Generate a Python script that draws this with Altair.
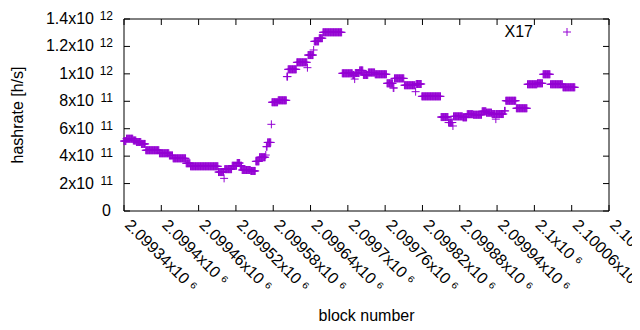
import altair as alt
import pandas as pd

# Runs of constant hashrate estimate: first block, last block, hashrate (x1e11 h/s)
seg_start = [2099340, 2099344, 2099355, 2099360, 2099368, 2099375, 2099397, 2099413, 2099419, 2099440,
             2099447, 2099492, 2099501, 2099502, 2099514, 2099522, 2099527, 2099530, 2099544, 2099552,
             2099558, 2099568, 2099569, 2099571, 2099577, 2099578, 2099588, 2099602, 2099604, 2099618,
             2099635, 2099636, 2099645, 2099646, 2099654, 2099660, 2099691, 2099708, 2099711, 2099712,
             2099719, 2099725, 2099733, 2099744, 2099763, 2099773, 2099775, 2099791, 2099809, 2099810,
             2099819, 2099850, 2099862, 2099869, 2099870, 2099885, 2099892, 2099902, 2099916, 2099923,
             2099932, 2099938, 2099939, 2099952, 2099954, 2099971, 2099989, 2100005, 2100014, 2100026,
             2100046]
seg_end = [2099343, 2099354, 2099359, 2099367, 2099374, 2099396, 2099412, 2099418, 2099439, 2099446,
           2099491, 2099500, 2099501, 2099513, 2099521, 2099526, 2099529, 2099543, 2099551, 2099557,
           2099567, 2099568, 2099570, 2099576, 2099577, 2099587, 2099601, 2099603, 2099617, 2099634,
           2099635, 2099644, 2099645, 2099653, 2099659, 2099690, 2099707, 2099710, 2099711, 2099718,
           2099724, 2099732, 2099743, 2099762, 2099772, 2099774, 2099790, 2099808, 2099809, 2099818,
           2099849, 2099861, 2099868, 2099869, 2099884, 2099891, 2099901, 2099915, 2099922, 2099931,
           2099937, 2099938, 2099950, 2099953, 2099970, 2099988, 2100004, 2100013, 2100025, 2100045,
           2100065]
seg_value = [5.10, 5.27, 5.14, 5.03, 4.89, 4.43, 4.21, 4.05, 3.84, 3.48,
             3.26, 2.84, 2.38, 3.05, 3.30, 3.50, 3.30, 2.99, 2.92, 3.62,
             3.92, 4.08, 4.69, 5.00, 6.32, 7.93, 8.07, 9.80, 10.33, 10.84,
             10.45, 11.37, 11.74, 12.37, 12.60, 13.03, 10.04, 9.92, 9.62, 10.06,
             10.25, 9.92, 10.10, 9.97, 9.31, 8.97, 9.67, 9.17, 8.70, 9.26,
             8.36, 6.85, 6.45, 6.20, 6.90, 6.83, 7.06, 7.02, 7.27, 7.17,
             7.07, 6.70, 7.07, 7.30, 8.04, 7.49, 9.24, 9.31, 9.97, 9.24,
             9.02]

x_ticks = [2099340, 2099400, 2099460, 2099520, 2099580, 2099640, 2099700,
           2099760, 2099820, 2099880, 2099940, 2100000, 2100060, 2100120]
x_labels = ["2.09934x10 \u2076", "2.0994x10 \u2076", "2.09946x10 \u2076", "2.09952x10 \u2076",
            "2.09958x10 \u2076", "2.09964x10 \u2076", "2.0997x10 \u2076", "2.09976x10 \u2076",
            "2.09982x10 \u2076", "2.09988x10 \u2076", "2.09994x10 \u2076", "2.1x10 \u2076",
            "2.10006x10 \u2076", "2.10012x10 \u2076"]
y_ticks = [0, 2e11, 4e11, 6e11, 8e11, 1e12, 1.2e12, 1.4e12]
y_base = ["0", "2x10", "4x10", "6x10", "8x10", "1x10", "1.2x10", "1.4x10"]
y_exp = ["", "11", "11", "11", "11", "12", "12", "12"]
series_name = ["X17"]
x_title = ["block number"]
y_title = ["hashrate [h/s]"]

blocks, rates = [], []
for s, e, v in zip(seg_start, seg_end, seg_value):
    for b in range(s, e + 1):
        blocks.append(b)
        rates.append(v * 1e11)
df = pd.DataFrame({"block": blocks, "hashrate": rates})
xt = pd.DataFrame({"block": x_ticks, "label": x_labels})
yt = pd.DataFrame({"hashrate": y_ticks, "base": y_base, "exp": y_exp})
lg = pd.DataFrame({"label": series_name})
xtt = pd.DataFrame({"t": x_title})
ytt = pd.DataFrame({"t": y_title})

W, H = 485, 192
FONT = "Liberation Sans"
PURPLE = "#9400d3"
PLUS = "M-1,0H1M0,-1V1"

xscale = alt.Scale(domain=[2099340, 2100120], nice=False, zero=False)
yscale = alt.Scale(domain=[0, 1.4e12], nice=False, zero=False)
X = alt.X("block:Q", scale=xscale, axis=None)
Y = alt.Y("hashrate:Q", scale=yscale, axis=None)

frame = alt.Chart(lg).mark_rect(fill=None, stroke="black", strokeWidth=1).encode(
    x=alt.value(0), x2=alt.value(W), y=alt.value(0), y2=alt.value(H))

points = alt.Chart(df).mark_point(
    shape=PLUS, size=64, filled=False, color=PURPLE, strokeWidth=1, opacity=1
).encode(x=X, y=Y)

xtick_b = alt.Chart(xt).mark_rule(color="black", strokeWidth=1).encode(
    x=X, y=alt.value(H), y2=alt.value(H - 6))
xtick_t = alt.Chart(xt).mark_rule(color="black", strokeWidth=1).encode(
    x=X, y=alt.value(0), y2=alt.value(6))
ytick_l = alt.Chart(yt).mark_rule(color="black", strokeWidth=1).encode(
    y=Y, x=alt.value(0), x2=alt.value(6))
ytick_r = alt.Chart(yt).mark_rule(color="black", strokeWidth=1).encode(
    y=Y, x=alt.value(W - 6), x2=alt.value(W))

xlab = alt.Chart(xt).mark_text(
    align="left", baseline="alphabetic", angle=45, font=FONT, fontSize=16, color="black"
).encode(x=X, y=alt.value(H + 15), text="label:N")

ylab_base = alt.Chart(yt).transform_filter("datum.exp != ''").mark_text(
    align="right", baseline="middle", font=FONT, fontSize=16, color="black"
).encode(y=Y, x=alt.value(-30), text="base:N")
ylab_exp = alt.Chart(yt).transform_filter("datum.exp != ''").mark_text(
    align="right", baseline="middle", font=FONT, fontSize=12, color="black", dy=-3
).encode(y=Y, x=alt.value(-11), text="exp:N")
ylab_zero = alt.Chart(yt).transform_filter("datum.exp == ''").mark_text(
    align="right", baseline="middle", font=FONT, fontSize=16, color="black"
).encode(y=Y, x=alt.value(-13), text="base:N")

xtitle = alt.Chart(xtt).mark_text(
    align="center", baseline="alphabetic", font=FONT, fontSize=16, color="black"
).encode(x=alt.value(W / 2), y=alt.value(H + 110), text="t:N")
ytitle = alt.Chart(ytt).mark_text(
    align="center", baseline="alphabetic", angle=270, font=FONT, fontSize=16, color="black"
).encode(x=alt.value(-101), y=alt.value(H / 2), text="t:N")

leg_text = alt.Chart(lg).mark_text(
    align="right", baseline="middle", font=FONT, fontSize=16, color="black"
).encode(x=alt.value(409), y=alt.value(13), text="label:N")
leg_sym = alt.Chart(lg).mark_point(
    shape=PLUS, size=64, filled=False, color=PURPLE, strokeWidth=1, opacity=1
).encode(x=alt.value(443), y=alt.value(13))

chart = alt.layer(
    frame, points, xtick_b, xtick_t, ytick_l, ytick_r, xlab, ylab_base, ylab_exp, ylab_zero,
    xtitle, ytitle, leg_text, leg_sym
).properties(
    width=W, height=H,
    autosize=alt.AutoSizeParams(type="none"),
    padding={"left": 116, "top": 11, "right": 23, "bottom": 111},
).configure_view(stroke=None)

chart.save("out.html", embed_options={"renderer": "svg", "actions": False})
